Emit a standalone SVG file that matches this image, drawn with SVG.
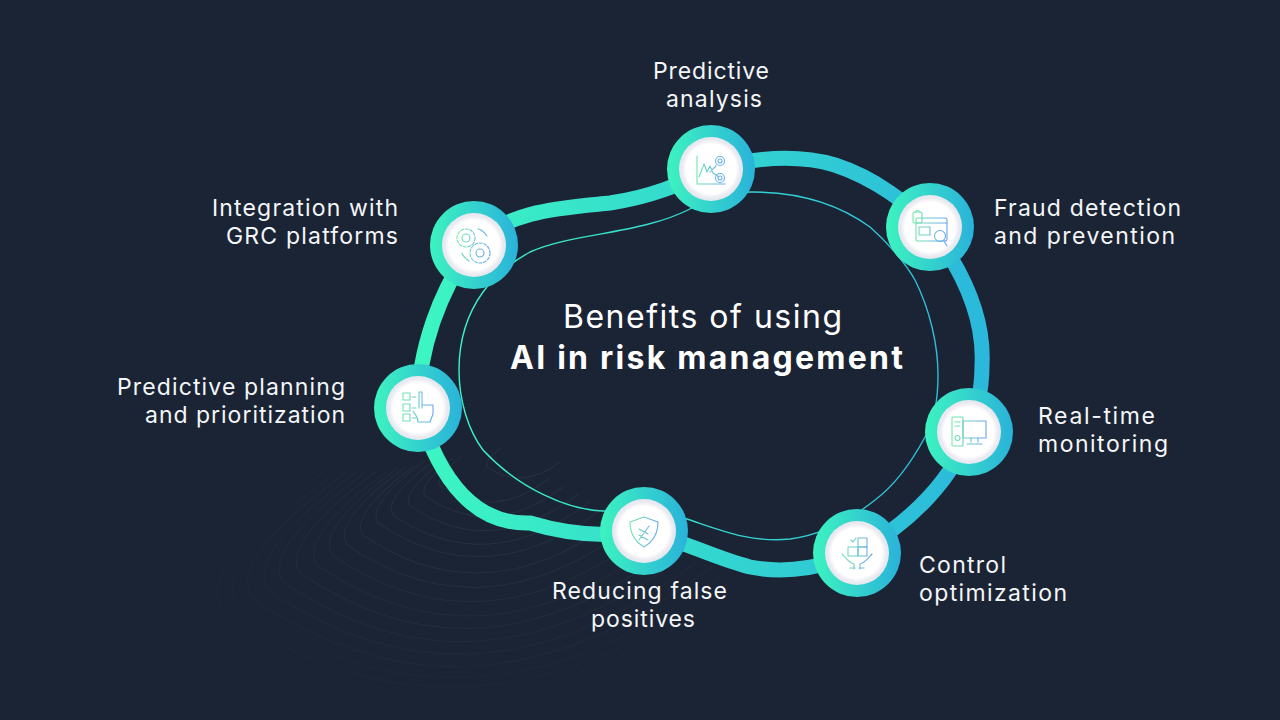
<svg xmlns="http://www.w3.org/2000/svg" xmlns:xlink="http://www.w3.org/1999/xlink" width="1280" height="720" viewBox="0 0 1280 720">
<defs>
<linearGradient id="band" gradientUnits="userSpaceOnUse" x1="420" y1="0" x2="985" y2="0"><stop offset="0" stop-color="#3cf6c2"/><stop offset="1" stop-color="#2bb8dc"/></linearGradient>
<linearGradient id="ring" gradientUnits="userSpaceOnUse" x1="-44" y1="0" x2="44" y2="0"><stop offset="0" stop-color="#3df3c0"/><stop offset="1" stop-color="#2ab2da"/></linearGradient>
<linearGradient id="ico" gradientUnits="userSpaceOnUse" x1="-16" y1="0" x2="16" y2="0"><stop offset="0" stop-color="#72eaa8"/><stop offset="1" stop-color="#68a4f2"/></linearGradient>
<radialGradient id="disc"><stop offset="0.78" stop-color="#ffffff"/><stop offset="0.9" stop-color="#ebebf2"/><stop offset="1" stop-color="#e6e6ee"/></radialGradient>
<path id="topo" d="M15 -20 Q-4 -6 0 0 Q35 24 73 -5"/>
<g id="disk"><circle r="44" fill="url(#ring)"/><circle r="32" fill="url(#disc)"/></g>
</defs>
<style>
.lb{font-family:"Inter","Liberation Sans",sans-serif;font-size:23px;fill:#f4f6f8}
.tl{font-family:"Inter","Liberation Sans",sans-serif;font-size:32px;fill:#ffffff}
.ic{fill:none;stroke:url(#ico);stroke-width:1.1;stroke-linecap:round;stroke-linejoin:round}
.tp{fill:none;stroke-width:1;vector-effect:non-scaling-stroke}
.tp use{vector-effect:non-scaling-stroke}
</style>
<rect width="1280" height="720" fill="#1b2434"/>
<g id="texture" fill="none" stroke="#2a3342" stroke-width="0.25">
<use href="#topo" transform="translate(487 467) scale(1)" stroke-width="1" opacity="0.9"/>
<use href="#topo" transform="translate(440 486) scale(1.5)" stroke-width="0.66" opacity="0.9"/>
<use href="#topo" transform="translate(425 496) scale(1.9)" stroke-width="0.52" opacity="0.9"/>
<use href="#topo" transform="translate(410 506) scale(2.3)" stroke-width="0.43" opacity="0.85"/>
<use href="#topo" transform="translate(393 515) scale(2.7)" stroke-width="0.37" opacity="0.8"/>
<use href="#topo" transform="translate(378 523) scale(3.1)" stroke-width="0.32" opacity="0.75"/>
<use href="#topo" transform="translate(363 535) scale(3.5)" stroke-width="0.29" opacity="0.7"/>
<use href="#topo" transform="translate(347 545) scale(3.9)" stroke-width="0.26" opacity="0.65"/>
<use href="#topo" transform="translate(332 555) scale(4.3)" stroke-width="0.23" opacity="0.6"/>
<use href="#topo" transform="translate(317 565) scale(4.7)" stroke-width="0.21" opacity="0.55"/>
<use href="#topo" transform="translate(300 573) scale(5.1)" stroke-width="0.2" opacity="0.5"/>
<use href="#topo" transform="translate(283 582) scale(5.5)" stroke-width="0.18" opacity="0.45"/>
<use href="#topo" transform="translate(268 590) scale(5.9)" stroke-width="0.17" opacity="0.4"/>
<use href="#topo" transform="translate(252 598) scale(6.3)" stroke-width="0.16" opacity="0.35"/>
<use href="#topo" transform="translate(237 605) scale(6.7)" stroke-width="0.15" opacity="0.3"/>
<use href="#topo" transform="translate(222 610) scale(7.1)" stroke-width="0.14" opacity="0.25"/>
<use href="#topo" transform="translate(207 613) scale(7.5)" stroke-width="0.13" opacity="0.2"/>
</g>
<g id="connectors" fill="none">
<path stroke="url(#band)" stroke-width="15" d="M711 169 C745 160 790 152 835 165 C875 178 910 205 930 227 C955 260 985 310 982 365 C982 395 975 415 969 432 C955 475 915 520 857 553 C830 565 790 575 750 567 C720 560 680 540 644 531 C610 537 570 535 530 523 C478 525 440 485 418 408 C418 350 440 290 473 245 C510 210 560 208 610 203 C650 197 680 185 711 169 Z"/>
<path stroke="url(#band)" stroke-width="1.4" d="M459 370 C459 335 470 310 483 292 C495 275 512 262 530 252 C575 232 640 235 692 208 C710 198 730 192 752 192 C800 192 840 205 870 227 C885 240 905 262 915 280 C930 310 938 345 938 375 C938 400 935 420 925 437 C910 465 895 485 875 500 C850 520 820 535 790 539 C750 543 720 530 687 519 C660 510 630 512 603 511 C570 510 520 490 483 450 C468 430 459 400 459 370 Z"/>
</g>
<g id="title">
<text class="tl" x="563" y="328" textLength="279">Benefits of using</text>
<text class="tl" x="510" y="369" textLength="393" font-weight="700">AI in risk management</text>
</g>
<g id="node-predictive-analysis">
<use href="#disk" transform="translate(711 169)"/>
<g class="ic" transform="translate(711 169)"><path d="M-14 -13V15H14M-12 8L-7 -5L-4 3L-1 -3L2 4L8 8M-1 3L5 -3"/><circle cx="9" cy="-8" r="4.5"/><circle cx="9" cy="-8" r="2"/><circle cx="9" cy="9" r="4.5"/><circle cx="9" cy="9" r="2"/></g>
<text class="lb" x="653" y="79" textLength="116">Predictive</text>
<text class="lb" x="666" y="107" textLength="96">analysis</text>
</g>
<g id="node-fraud">
<use href="#disk" transform="translate(930 227)"/>
<g class="ic" transform="translate(930 227)"><rect x="-14" y="-9" width="31" height="23" rx="2"/><path d="M-14 -4H17M14 14L17 19"/><rect x="-11" y="0" width="11" height="8"/><circle cx="10" cy="9" r="5.5"/><rect x="-17" y="-15" width="9" height="11" rx="1.5"/><path d="M-15 -15a3 3 0 0 1 5 0"/></g>
<text class="lb" x="994" y="216" textLength="187">Fraud detection</text>
<text class="lb" x="994" y="244" textLength="181">and prevention</text>
</g>
<g id="node-monitoring">
<use href="#disk" transform="translate(969 432)"/>
<g class="ic" transform="translate(969 432)"><rect x="-17" y="-15" width="11" height="29" rx="1"/><path d="M-14 -10H-9M-14 -6H-9"/><circle cx="-11.500" cy="6" r="2.500"/><rect x="-6" y="-11" width="23" height="17"/><path d="M2 6V10M9 6V10M-2 12H13"/></g>
<text class="lb" x="1038" y="424" textLength="117">Real-time</text>
<text class="lb" x="1038" y="452" textLength="130">monitoring</text>
</g>
<g id="node-control">
<use href="#disk" transform="translate(857 553)"/>
<g class="ic" transform="translate(857 553)"><rect x="-9" y="-6" width="10" height="9"/><rect x="1" y="-6" width="9" height="9"/><rect x="1" y="-15" width="9" height="9"/><path d="M-6 -13L-4 -11L-1 -15M-15 1C-12 4 -9 9 -3 11V16M15 1C12 4 9 9 3 11V16M-7 15H-2M2 15H7"/></g>
<text class="lb" x="919" y="573" textLength="87">Control</text>
<text class="lb" x="919" y="601" textLength="148">optimization</text>
</g>
<g id="node-false-positives">
<use href="#disk" transform="translate(644 531)"/>
<g class="ic" transform="translate(644 531)"><path d="M0 -14L14 -9C14 2 10 10 0 16C-10 10 -14 2 -14 -9Z"/><path d="M5 -5L-5 9M-5 -2L4 3M-5 4L4 9"/></g>
<text class="lb" x="552" y="599" textLength="175">Reducing false</text>
<text class="lb" x="591" y="627" textLength="104">positives</text>
</g>
<g id="node-planning">
<use href="#disk" transform="translate(418 408)"/>
<g class="ic" transform="translate(418 408)"><rect x="-15" y="-15" width="7" height="7"/><rect x="-15" y="-4" width="7" height="7"/><rect x="-15" y="6" width="7" height="7"/><path d="M-6 -11H-2M-6 0H-2M-6 10H-2M1 -16V0M4 -16V0M1 -16H4M-5 3C-2 8 0 8 0 14M4 -3H15V6L12 14M0 14H12"/></g>
<text class="lb" x="117" y="395" textLength="228">Predictive planning</text>
<text class="lb" x="145" y="423" textLength="200">and prioritization</text>
</g>
<g id="node-grc">
<use href="#disk" transform="translate(474 245)"/>
<g class="ic" transform="translate(474 245)"><circle cx="-8" cy="-7" r="4"/><circle cx="-8" cy="-7" r="9" stroke-dasharray="3 1.600"/><circle cx="6" cy="8" r="4"/><circle cx="6" cy="8" r="10" stroke-dasharray="3 1.600"/><path d="M4 -16C9 -15 11 -12 13 -9M-12 8C-11 12 -8 14 -5 16"/></g>
<text class="lb" x="212" y="216" textLength="186">Integration with</text>
<text class="lb" x="226" y="244" textLength="172">GRC platforms</text>
</g>
</svg>
